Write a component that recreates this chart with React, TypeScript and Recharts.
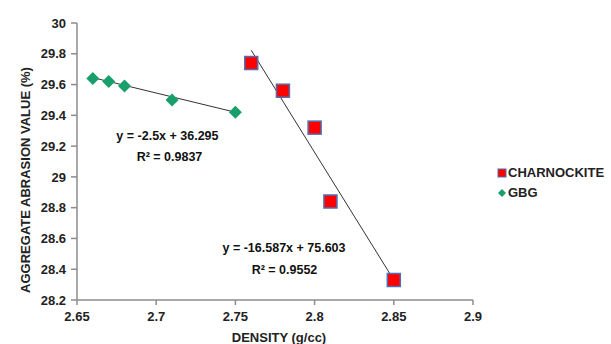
import React from 'react';
import {
  ScatterChart,
  Scatter,
  XAxis,
  YAxis,
  ReferenceLine,
  ReferenceDot,
} from 'recharts';

// density (g/cc) vs aggregate abrasion value (%)
const charnockiteDensity = [2.76, 2.78, 2.8, 2.81, 2.85];
const charnockiteAav = [29.74, 29.56, 29.32, 28.84, 28.33];

const gbgDensity = [2.66, 2.67, 2.68, 2.71, 2.75];
const gbgAav = [29.64, 29.62, 29.59, 29.5, 29.42];

// linear trendlines as printed on the chart
const charnockiteFit = { slope: -16.587, intercept: 75.603, r2: '0.9552' };
const gbgFit = { slope: -2.5, intercept: 36.295, r2: '0.9837' };

const xTicks = [2.65, 2.7, 2.75, 2.8, 2.85, 2.9];
const yTicks = [28.2, 28.4, 28.6, 28.8, 29, 29.2, 29.4, 29.6, 29.8, 30];

const charnockiteData = charnockiteDensity.map((x, i) => ({ x, y: charnockiteAav[i] }));
const gbgData = gbgDensity.map((x, i) => ({ x, y: gbgAav[i] }));

const fitSegment = (xs: number[], fit: { slope: number; intercept: number }) => {
  const x0 = Math.min(...xs);
  const x1 = Math.max(...xs);
  return [
    { x: x0, y: fit.slope * x0 + fit.intercept },
    { x: x1, y: fit.slope * x1 + fit.intercept },
  ];
};

const FONT = 'Arial, "Liberation Sans", sans-serif';
const RED = '#ff0000';
const RED_EDGE = '#4f6fb0';
const GREEN = '#17a06c';
const AXIS = '#8c8c8c';

const Square = (props: any) => {
  const { cx, cy } = props;
  if (cx == null || cy == null) return null;
  return (
    <rect x={cx - 6.5} y={cy - 6.5} width={13} height={13} fill={RED} stroke={RED_EDGE} strokeWidth={1.5} />
  );
};

const Diamond = (props: any) => {
  const { cx, cy } = props;
  if (cx == null || cy == null) return null;
  const r = 6.5;
  return <path d={`M${cx},${cy - r}L${cx + r},${cy}L${cx},${cy + r}L${cx - r},${cy}Z`} fill={GREEN} />;
};

const annotation = (text: string) => ({
  value: text,
  position: 'center' as const,
  fill: '#111',
  fontSize: 12.5,
  fontWeight: 'bold',
  fontFamily: FONT,
});

const eqText = (fit: { slope: number; intercept: number }) =>
  `y = ${fit.slope}x + ${fit.intercept}`;

export default function App() {
  const tickStyle = { fontSize: 13, fontWeight: 'bold', fontFamily: FONT, fill: '#222' };
  return (
    <div style={{ position: 'fixed', left: 0, top: 0, width: 611, height: 344, background: '#fff' }}>
      <ScatterChart width={611} height={344} margin={{ top: 23, right: 138, bottom: 0, left: 0 }}>
        <XAxis
          type='number'
          dataKey='x'
          domain={[2.65, 2.9]}
          ticks={xTicks}
          interval={0}
          height={44}
          tickSize={5}
          tickMargin={7}
          stroke={AXIS}
          strokeWidth={1.5}
          tick={tickStyle}
          label={{
            content: () => (
              <text x={279} y={342} textAnchor='middle' style={tickStyle} fill='#222'>
                DENSITY (g/cc)
              </text>
            ),
          }}
        />
        <YAxis
          type='number'
          dataKey='y'
          domain={[28.2, 30]}
          ticks={yTicks}
          interval={0}
          width={77}
          tickSize={6}
          tickMargin={5}
          stroke={AXIS}
          strokeWidth={1.5}
          tick={tickStyle}
          label={{
            content: () => (
              <text
                x={25}
                y={180}
                transform='rotate(-90 25 180)'
                textAnchor='middle'
                dominantBaseline='central'
                style={tickStyle}
                fill='#222'
              >
                AGGREGATE ABRASION VALUE (%)
              </text>
            ),
          }}
        />
        <ReferenceLine segment={fitSegment(gbgDensity, gbgFit)} stroke='#333' strokeWidth={1} ifOverflow='visible' />
        <ReferenceLine
          segment={fitSegment(charnockiteDensity, charnockiteFit)}
          stroke='#333'
          strokeWidth={1}
          ifOverflow='visible'
        />
        <Scatter name='CHARNOCKITE' data={charnockiteData} shape={Square} isAnimationActive={false} />
        <Scatter name='GBG' data={gbgData} shape={Diamond} isAnimationActive={false} />
        <ReferenceDot x={2.7071} y={29.266} r={0} label={annotation(eqText(gbgFit))} ifOverflow='visible' />
        <ReferenceDot x={2.7084} y={29.129} r={0} label={annotation(`R² = ${gbgFit.r2}`)} ifOverflow='visible' />
        <ReferenceDot x={2.7807} y={28.538} r={0} label={annotation(eqText(charnockiteFit))} ifOverflow='visible' />
        <ReferenceDot x={2.781} y={28.401} r={0} label={annotation(`R² = ${charnockiteFit.r2}`)} ifOverflow='visible' />
      </ScatterChart>
      <div
        style={{
          position: 'absolute',
          left: 497,
          top: 163,
          fontFamily: FONT,
          fontWeight: 'bold',
          fontSize: 13,
          color: '#222',
          lineHeight: '20px',
        }}
      >
        <div style={{ display: 'flex', alignItems: 'center' }}>
          <svg width={11} height={10}>
            <rect x={1} y={1} width={8} height={8} fill={RED} stroke={RED_EDGE} strokeWidth={1} />
          </svg>
          <span>CHARNOCKITE</span>
        </div>
        <div style={{ display: 'flex', alignItems: 'center' }}>
          <svg width={11} height={10}>
            <path d='M5,1L9,5L5,9L1,5Z' fill={GREEN} />
          </svg>
          <span>GBG</span>
        </div>
      </div>
    </div>
  );
}
